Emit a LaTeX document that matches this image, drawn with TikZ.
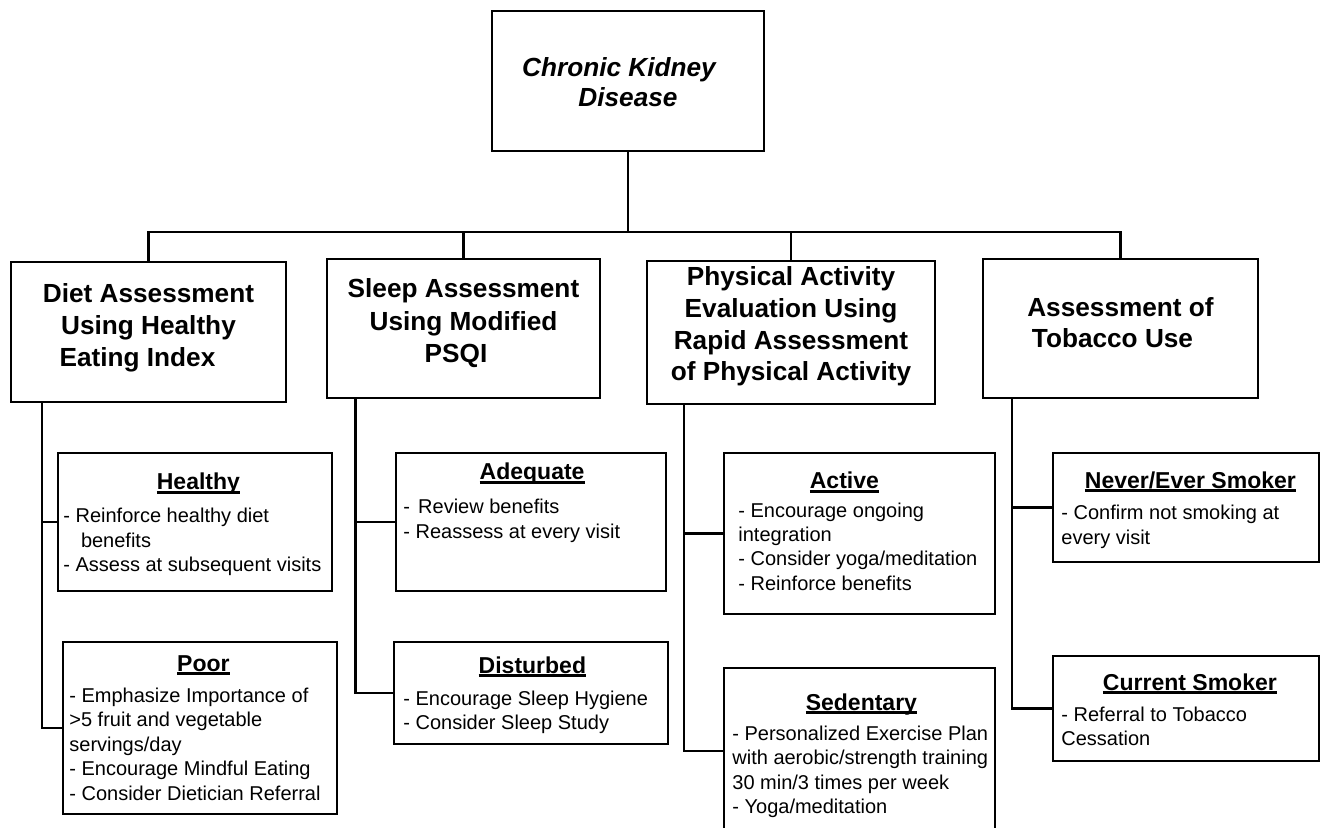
\documentclass[tikz,border=0pt]{standalone}
\usepackage{fontspec}
\setmainfont{Liberation Sans}
\usetikzlibrary{fit}

% text styles
\newcommand{\bodyfont}{\fontsize{10}{12.25}\selectfont}
\newcommand{\leaftitlefont}{\fontsize{11.5}{14}\selectfont\bfseries}
\newcommand{\headfont}[1]{\fontsize{13.1}{#1}\selectfont\bfseries}
% underline that sits just under the baseline
\newcommand{\ulbar}[1]{\setbox0\hbox{#1}\rlap{\rule[-1.8pt]{\wd0}{1.1pt}}\box0}

\tikzset{
  box/.style={draw, line width=1pt, inner sep=0pt},
  link/.style={draw, line width=1.2pt},
  headtxt/.style={anchor=base, inner sep=0pt},
  leaftxt/.style={anchor=base west, inner sep=0pt},
}

% #1 name, #2 x, #3 title baseline, #4 title box width, #5 title, #6 extra gap, #7 lines
\newcommand{\leaftext}[7]{%
  \node[leaftxt] (#1) at (#2,#3) {\begin{minipage}[t]{200pt}
    \makebox[#4][c]{\leaftitlefont\ulbar{#5}}\par
    \vspace{#6}
    \bodyfont #7
  \end{minipage}};}

\begin{document}
\begin{tikzpicture}[x=0.5pt,y=-0.5pt]
\path[fill=white, use as bounding box] (0,0) rectangle (1323,828);

% ---------- boxes ----------
\node[box, fit={(492,11) (764,151)}] (ckd) {};
\node[box, fit={(11,262) (286,402)}] (diet) {};
\node[box, fit={(327,259) (600,398)}] (sleep) {};
\node[box, fit={(647,261) (935,404)}] (pa) {};
\node[box, fit={(983,259) (1258,398)}] (tob) {};

\node[box, fit={(58,453) (332,591)}] (healthy) {};
\node[box, fit={(63,642) (337,814)}] (poor) {};
\node[box, fit={(396,453) (666,591)}] (adequate) {};
\node[box, fit={(394,642) (668,744)}] (disturbed) {};
\node[box, fit={(724,453) (995,614)}] (active) {};
\node[box, fit={(724,668) (995,834)}] (sedentary) {};
\node[box, fit={(1053,453) (1319,562)}] (never) {};
\node[box, fit={(1053,656) (1319,761)}] (current) {};

% ---------- headings ----------
\node[headtxt] (ckd-t) at (628,77) {\begin{minipage}[t]{160pt}\centering
  \fontsize{13.1}{15}\selectfont\bfseries\itshape
  Chronic Kidney\hspace*{9pt}\mbox{}\\ Disease\end{minipage}};
\node[headtxt] (diet-t) at (148.5,303) {\begin{minipage}[t]{160pt}\centering
  \headfont{16}Diet Assessment\\ Using Healthy\\ Eating Index\hspace*{11pt}\mbox{}\end{minipage}};
\node[headtxt] (sleep-t) at (463.5,298) {\begin{minipage}[t]{160pt}\centering
  \headfont{16.25}Sleep Assessment\\ Using Modified\\ PSQI\hspace*{7.5pt}\mbox{}\end{minipage}};
\node[headtxt] (pa-t) at (791,286) {\begin{minipage}[t]{160pt}\centering
  \headfont{15.8}Physical Activity\\ Evaluation Using\\ Rapid Assessment\\ of Physical Activity\end{minipage}};
\node[headtxt] (tob-t) at (1120.5,317) {\begin{minipage}[t]{160pt}\centering
  \headfont{15.5}Assessment of\\ Tobacco Use\hspace*{8pt}\mbox{}\end{minipage}};

% ---------- leaf texts ----------
\leaftext{healthy-t}{63}{490}{135pt}{Healthy}{4.25pt}{%
  - Reinforce healthy diet\\ \hspace*{8.8pt}benefits\\ - Assess at subsequent visits}
\leaftext{poor-t}{69}{671}{134pt}{Poor}{3.25pt}{%
  - Emphasize Importance of\\ >5 fruit and vegetable\\ servings/day\\
  - Encourage Mindful Eating\\ - Consider Dietician Referral}
\leaftext{adequate-t}{403}{480}{128.7pt}{Adequate}{4.75pt}{%
  -\hspace{1.3pt} Review benefits\\ - Reassess at every visit}
\leaftext{disturbed-t}{403}{673}{129pt}{Disturbed}{3.75pt}{%
  - Encourage Sleep Hygiene\\ - Consider Sleep Study}
\leaftext{active-t}{738}{489}{106pt}{Active}{1.75pt}{%
  - Encourage ongoing\\ integration\\ - Consider yoga/meditation\\ - Reinforce benefits}
\leaftext{sedentary-t}{732}{710}{129pt}{Sedentary}{2.75pt}{%
  - Personalized Exercise Plan\\ with aerobic/strength training\\
  30 min/3 times per week\\ - Yoga/meditation}
\leaftext{never-t}{1061}{488}{129pt}{Never/Ever Smoker}{3.75pt}{%
  - Confirm not smoking at\\ every visit}
\leaftext{current-t}{1061}{690}{128.5pt}{Current Smoker}{3.25pt}{%
  - Referral to Tobacco\\ Cessation}

% ---------- connectors ----------
\coordinate (bus) at (0,232);
\draw[link] (ckd.south) -- (ckd.south |- bus);
\draw[link] (diet.north) |- (tob.north |- bus) -- (tob.north);
\draw[link] (sleep.north) -- (sleep.north |- bus);
\draw[link] (pa.north) -- (pa.north |- bus);

\coordinate (dspine) at (42,0);
\coordinate (sspine) at (355.5,0);
\coordinate (pspine) at (684,0);
\coordinate (tspine) at (1012,0);

\draw[link] (diet.south -| dspine) |- (poor.west);
\draw[link] (healthy.west) -- (healthy.west -| dspine);
\draw[link] (sleep.south -| sspine) |- (disturbed.west);
\draw[link] (adequate.west) -- (adequate.west -| sspine);
\draw[link] (pa.south -| pspine) |- (sedentary.west);
\draw[link] (active.west) -- (active.west -| pspine);
\draw[link] (tob.south -| tspine) |- (current.west);
\draw[link] (never.west) -- (never.west -| tspine);
\end{tikzpicture}
\end{document}
